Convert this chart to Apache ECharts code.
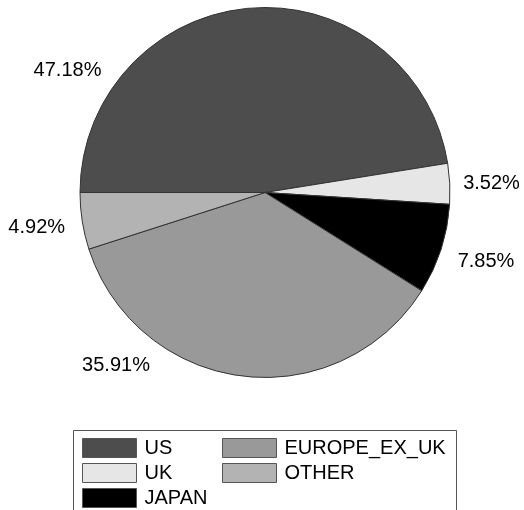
<!DOCTYPE html>
<html>
<head>
<meta charset="utf-8">
<script src="https://cdn.jsdelivr.net/npm/echarts@6/dist/echarts.min.js"></script>
<style>
html,body{margin:0;padding:0;background:#fff;}
#chart{width:524px;height:510px;}
</style>
</head>
<body>
<div id="chart"></div>
<script>
var categories = ['US', 'UK', 'JAPAN', 'EUROPE_EX_UK', 'OTHER'];
var values = [47.18, 3.52, 7.85, 35.91, 4.92];
var colors = ['#4d4d4d', '#e6e6e6', '#000000', '#999999', '#b3b3b3'];
var legendCol1 = ['US', 'UK', 'JAPAN'];
var legendCol2 = ['EUROPE_EX_UK', 'OTHER'];

// label anchor points (text centres) as in the reference layout
var labelSpots = [[67.5, 70], [491.5, 183], [486, 261.5], [116, 365.5], [36.7, 227]];

var font = 'Liberation Sans, Arial, sans-serif';
var chart = echarts.init(document.getElementById('chart'), null, {renderer: 'canvas'});

var data = categories.map(function (c, i) {
  return {name: c, value: values[i], itemStyle: {color: colors[i]}};
});

var legendBase = {
  orient: 'vertical',
  top: 438,
  padding: 0,
  itemWidth: 54,
  itemHeight: 19,
  itemGap: 5,
  icon: 'rect',
  selectedMode: false,
  itemStyle: {borderColor: '#555', borderWidth: 1},
  textStyle: {fontFamily: font, fontSize: 20, color: '#000', padding: [0, 0, 0, 3]}
};

chart.setOption({
  animation: false,
  backgroundColor: '#fff',
  color: colors,
  legend: [
    Object.assign({}, legendBase, {left: 82, data: legendCol1}),
    Object.assign({}, legendBase, {left: 222, data: legendCol2})
  ],
  graphic: [{
    type: 'rect',
    shape: {x: 73.5, y: 430.5, width: 383, height: 120},
    style: {fill: 'none', stroke: '#555', lineWidth: 1},
    silent: true
  }],
  series: [{
    type: 'pie',
    center: [265, 192.5],
    radius: 185,
    startAngle: 180,
    clockwise: true,
    avoidLabelOverlap: false,
    data: data,
    itemStyle: {borderColor: '#333', borderWidth: 1},
    emphasis: {disabled: true},
    label: {
      show: true,
      position: 'outside',
      formatter: function (p) { return p.value.toFixed(2) + '%'; },
      fontFamily: font,
      fontSize: 20,
      color: '#000'
    },
    labelLine: {show: false},
    labelLayout: function (p) {
      var s = labelSpots[p.dataIndex];
      return {x: s[0], y: s[1], align: 'center', verticalAlign: 'middle'};
    }
  }]
});
</script>
</body>
</html>
